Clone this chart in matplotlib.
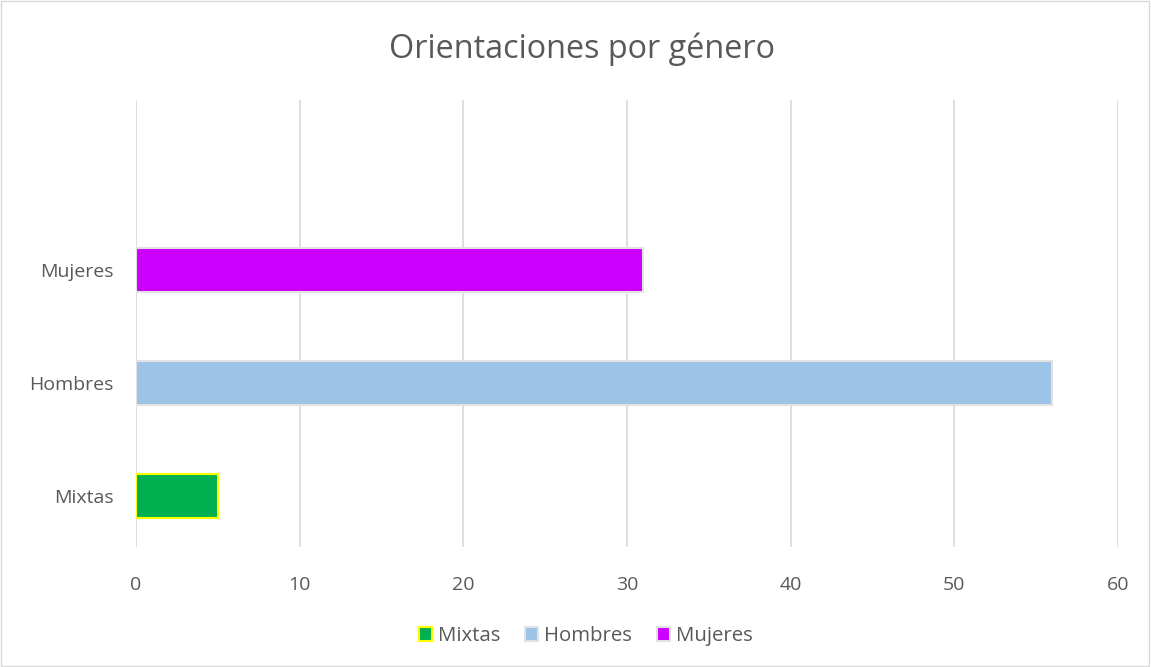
import matplotlib.pyplot as plt
from matplotlib.patches import Rectangle

# --- Data ---
categories = ["Mixtas", "Hombres", "Mujeres"]
values = [5, 56, 31]
fill_colors = ["#00B050", "#9DC3E6", "#CC00FF"]
edge_colors = ["#FFFF00", "#E2E2E2", "#E2E2E2"]
x_ticks = [0, 10, 20, 30, 40, 50, 60]

text_color = "#595959"
plt.rcParams["font.family"] = ["Open Sans", "DejaVu Sans"]

fig = plt.figure(figsize=(11.51, 6.67), dpi=100)
ax = fig.add_axes([0.118, 0.18, 0.8533, 0.67])

for i, (cat, val) in enumerate(zip(categories, values)):
    ax.barh(i, val, height=0.39, color=fill_colors[i], edgecolor=edge_colors[i],
            linewidth=1.5, label=cat, zorder=3)

ax.set_xlim(0, 60)
ax.set_ylim(-0.45, 3.5)
ax.set_xticks(x_ticks)
ax.set_yticks(range(len(categories)))
ax.set_yticklabels(categories)
ax.tick_params(axis="both", length=0, labelsize=14, labelcolor=text_color)
ax.tick_params(axis="x", pad=21)
ax.tick_params(axis="y", pad=16)

ax.grid(axis="x", color="#D9D9D9", linewidth=1.2, zorder=0)
for side in ["top", "right", "bottom", "left"]:
    ax.spines[side].set_visible(False)

fig.suptitle("Orientaciones por género", x=0.506, y=0.926, va="center",
             fontsize=23.3, color=text_color)

fig.legend(loc="center", bbox_to_anchor=(0.509, 0.046), ncol=3, frameon=False,
           fontsize=14.7, labelcolor=text_color, handlelength=0.65, handleheight=0.65,
           handletextpad=0.3, columnspacing=1.2)

# outer chart border
fig.patches.append(Rectangle((0.0005, 0.001), 0.998, 0.997, transform=fig.transFigure,
                             fill=False, edgecolor="#D9D9D9", linewidth=1))

fig.savefig("out.png", dpi=100)
